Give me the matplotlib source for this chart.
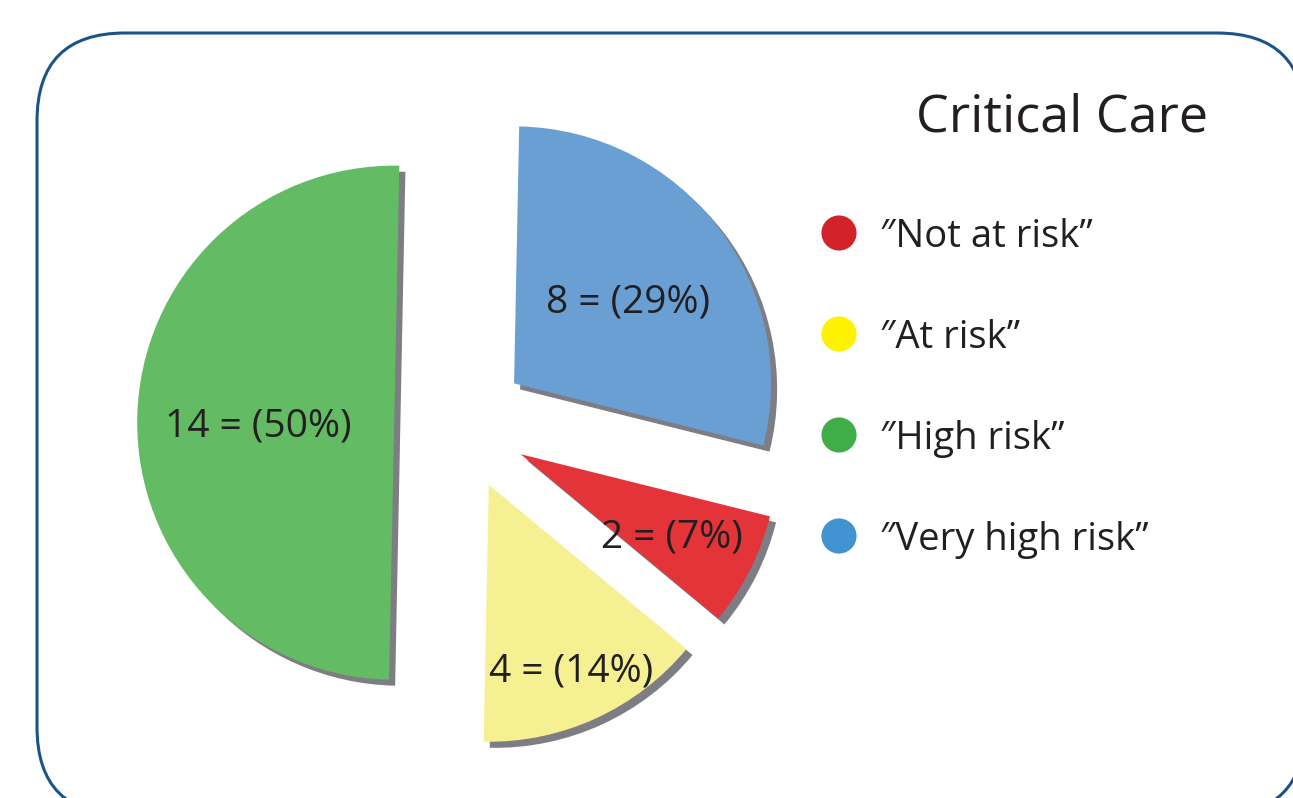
import matplotlib
matplotlib.use("Agg")
import numpy as np
import matplotlib.pyplot as plt
from matplotlib.patches import FancyBboxPatch

# data
categories = ["Not at risk", "At risk", "High risk", "Very high risk"]
counts = [2, 4, 14, 8]
wedge_colors = ["#e3343a", "#f5f192", "#63bc63", "#6a9fd4"]
legend_colors = ["#d2232a", "#fff200", "#3fae49", "#4192d0"]
title = "Critical Care"

plt.rcParams["font.family"] = ["Open Sans", "DejaVu Sans"]
TXT = "#231f20"

W, H = 1293, 798
R = 257.0            # pie radius in px
CX, CY = 461, 424    # pie centre in px (from top-left)

fig = plt.figure(figsize=(W / 100, H / 100), dpi=100)

# === Frame, title and legend (pixel coords, y measured from top) ===
ov = fig.add_axes([0, 0, 1, 1])
ov.set_xlim(0, W)
ov.set_ylim(0, H)
ov.axis("off")
ov.set_zorder(0)

def py(y):
    return H - y

# white fill so the rounded corners are not mangled when clipped at the edge
ov.add_patch(FancyBboxPatch((37, py(815)), 1268, 782,
                            boxstyle="round,pad=0,rounding_size=88",
                            facecolor="white", edgecolor="#1d5488", linewidth=2.2))

ov.text(1062, py(118), title, ha="center", va="center", fontsize=37.5, color=TXT)

for i, (lab, col) in enumerate(zip(categories, legend_colors)):
    y = 233 + 101 * i
    ov.scatter([839], [py(y)], s=640, color=col, edgecolors="none", zorder=3)
    ov.text(880, py(y + 4), "\u2033" + lab + "\u201d", ha="left", va="center",
            fontsize=27.5, color=TXT)

# === Exploded pie ===
ax = fig.add_axes([0, 0, 1, 1])
ax.set_zorder(1)
ax.patch.set_visible(False)
wedges, _ = ax.pie(
    counts,
    colors=wedge_colors,
    startangle=-14,
    counterclock=False,
    explode=[0.26] * len(counts),
    shadow={"ox": 0.017, "oy": -0.017, "facecolor": "#7d7d83",
            "edgecolor": "none", "alpha": 1},
    wedgeprops={"linewidth": 0},
)
ax.set_xlim(-CX / R, (W - CX) / R)
ax.set_ylim(-(H - CY) / R, CY / R)
ax.set_aspect("auto")
ax.axis("off")

# slice labels "n = (p%)"
total = sum(counts)
label_dist = [0.66, 0.77, 0.53, 0.56]
for w, n, d in zip(wedges, counts, label_dist):
    t = np.deg2rad((w.theta1 + w.theta2) / 2)
    cx, cy = w.center
    ax.annotate(f"{n} = ({round(n / total * 100)}%)",
                xy=(cx + d * np.cos(t), cy + d * np.sin(t)),
                xytext=(0, -5), textcoords="offset points",
                ha="center", va="center", fontsize=28, color=TXT)

fig.savefig("out.png", dpi=100)
